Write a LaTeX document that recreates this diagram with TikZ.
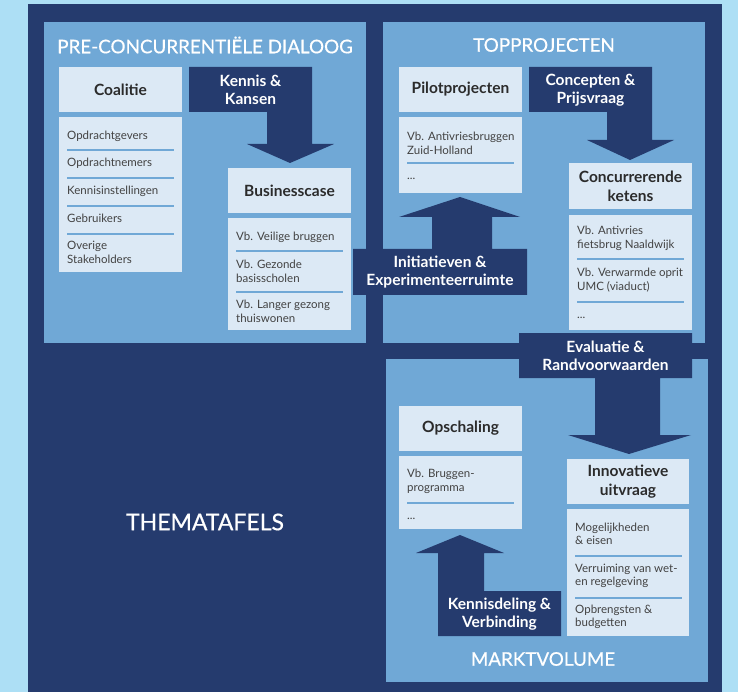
\documentclass[tikz,border=0pt]{standalone}
\usepackage{fontspec}
\setmainfont{Lato}
\newfontfamily\medfont[FakeBold=0.6]{Lato}
\definecolor{bgl}{HTML}{ADDFF5}
\definecolor{navy}{HTML}{253B6E}
\definecolor{midb}{HTML}{70A8D6}
\definecolor{boxl}{HTML}{DCE9F5}
\definecolor{hdtxt}{HTML}{2B2B2B}
\definecolor{ltxt}{HTML}{424242}
\begin{document}
\begin{tikzpicture}[x=1pt,y=-1pt,
  paneltitle/.style={text=white,font=\medfont\fontsize{18.8}{22}\selectfont,inner sep=0},
  hdrbox/.style={fill=boxl,draw=none,inner sep=0,align=center,text=hdtxt,font=\bfseries\fontsize{15.5}{19}\selectfont},
  listbox/.style={fill=boxl,draw=none,inner sep=0},
  item/.style={anchor=west,align=left,text=ltxt,inner sep=0,font=\fontsize{11.5}{13.5}\selectfont},
  dots/.style={anchor=base west,text=ltxt,inner sep=0,font=\fontsize{11.5}{13.5}\selectfont},
  sep/.style={midb,line width=2pt},
  arrlabel/.style={text=white,align=center,inner sep=0,font=\bfseries\fontsize{15.5}{18}\selectfont},
  arrshape/.style={fill=navy,draw=none}
]
\useasboundingbox (0,0) rectangle (738,692);
\fill[bgl] (0,0) rectangle (738,692);
\fill[navy] (28,4) rectangle (722,692);

% panels
\fill[midb] (44,22) rectangle (366,343);
\fill[midb] (383,22) rectangle (705,343);
\fill[midb] (386,359) rectangle (708,682);
\node[paneltitle] (t1) at (205,45) {PRE-CONCURRENTIËLE DIALOOG};
\node[paneltitle] (t2) at (544,45) {TOPPROJECTEN};
\node[paneltitle] (t3) at (543,659) {MARKTVOLUME};
\node[text=white,inner sep=0,font=\medfont\fontsize{23}{27}\selectfont] (thema) at (205,522) {THEMATAFELS};

% ---------- Coalitie ----------
\node[hdrbox,minimum width=123pt,minimum height=45pt] (coal) at (120.5,89.5) {Coalitie};
\node[listbox,minimum width=123pt,minimum height=155pt] (coallist) at (120.5,194.5) {};
\node[item] (c1) at (67,136) {Opdrachtgevers};
\draw[sep] (67,150) -- (174,150);
\node[item] (c2) at (67,163) {Opdrachtnemers};
\draw[sep] (67,178) -- (174,178);
\node[item] (c3) at (67,191) {Kennisinstellingen};
\draw[sep] (67,206) -- (174,206);
\node[item] (c4) at (67,218) {Gebruikers};
\draw[sep] (67,234) -- (174,234);
\node[item] (c5) at (67,252.5) {Overige\\Stakeholders};

% ---------- Kennis & Kansen ----------
\fill[arrshape] (189,67) -- (312,67) -- (312,144) -- (334,144) -- (290,163) -- (247,144) -- (267,144) -- (267,112) -- (189,112) -- cycle;
\node[arrlabel] (kk) at (250.5,90) {Kennis \&\\Kansen};

% ---------- Businesscase ----------
\node[hdrbox,minimum width=123pt,minimum height=45pt] (busi) at (289.5,190.5) {Businesscase};
\node[listbox,minimum width=123pt,minimum height=112pt] (busilist) at (289.5,274) {};
\node[item] (b1) at (236,237) {Vb. Veilige bruggen};
\draw[sep] (236,251) -- (343,251);
\node[item] (b2) at (236,271.5) {Vb. Gezonde\\basisscholen};
\draw[sep] (236,292) -- (343,292);
\node[item] (b3) at (236,311.5) {Vb. Langer gezong\\thuiswonen};

% ---------- Pilotprojecten ----------
\node[hdrbox,minimum width=123pt,minimum height=45pt] (pilot) at (460.5,89.5) {Pilotprojecten};
\node[listbox,minimum width=123pt,minimum height=76pt] (pilotlist) at (460.5,155) {};
\node[item] (p1) at (407,143.5) {Vb. Antivriesbruggen\\Zuid-Holland};
\draw[sep] (407,163) -- (514,163);
\node[dots] (p2) at (407,180) {...};

% ---------- Concepten & Prijsvraag ----------
\fill[arrshape] (529,67) -- (652,67) -- (652,140) -- (674,140) -- (630,160) -- (587,140) -- (607,140) -- (607,112) -- (529,112) -- cycle;
\node[arrlabel] (cp) at (590.5,90) {Concepten \&\\Prijsvraag};

% ---------- Concurrerende ketens ----------
\node[hdrbox,minimum width=123pt,minimum height=46pt] (conc) at (630.5,186) {Concurrerende\\ketens};
\node[listbox,minimum width=123pt,minimum height=115pt] (conclist) at (630.5,272.5) {};
\node[item] (k1) at (577,238.5) {Vb. Antivries\\fietsbrug Naaldwijk};
\draw[sep] (577,259) -- (684,259);
\node[item] (k2) at (577,280) {Vb. Verwarmde oprit\\UMC (viaduct)};
\draw[sep] (577,302) -- (684,302);
\node[dots] (k3) at (577,318) {...};

% ---------- Initiatieven & Experimenteerruimte ----------
\fill[arrshape] (353,249) -- (432,249) -- (432,217) -- (399,217) -- (460,197) -- (520,217) -- (492,217) -- (492,249) -- (527,249) -- (527,295) -- (353,295) -- cycle;
\node[arrlabel] (ie) at (440,272.5) {Initiatieven \&\\Experimenteerruimte};

% ---------- Evaluatie & Randvoorwaarden ----------
\fill[arrshape] (519,333) -- (692,333) -- (692,378) -- (660,378) -- (660,435) -- (691,435) -- (629,454) -- (568,435) -- (595,435) -- (595,378) -- (519,378) -- cycle;
\node[arrlabel] (er) at (605.5,356) {Evaluatie \&\\Randvoorwaarden};

% ---------- Opschaling ----------
\node[hdrbox,minimum width=123pt,minimum height=45pt] (opsch) at (460.5,428.5) {Opschaling};
\node[listbox,minimum width=123pt,minimum height=73pt] (opschlist) at (460.5,492.5) {};
\node[item] (o1) at (407,481.5) {Vb. Bruggen-\\programma};
\draw[sep] (407,503) -- (514,503);
\node[dots] (o2) at (407,519) {...};

% ---------- Kennisdeling & Verbinding ----------
\fill[arrshape] (438,636) -- (438,553) -- (416,553) -- (460,535) -- (504,553) -- (484,553) -- (484,591) -- (561,591) -- (561,636) -- cycle;
\node[arrlabel] (kv) at (499.5,614) {Kennisdeling \&\\Verbinding};

% ---------- Innovatieve uitvraag ----------
\node[hdrbox,minimum width=122pt,minimum height=45pt] (innov) at (628,481.5) {Innovatieve\\uitvraag};
\node[listbox,minimum width=122pt,minimum height=127pt] (innovlist) at (628,572.5) {};
\node[item] (i1) at (575,534) {Mogelijkheden\\\& eisen};
\draw[sep] (575,556) -- (682,556);
\node[item] (i2) at (575,576) {Verruiming van wet-\\en regelgeving};
\draw[sep] (575,598) -- (682,598);
\node[item] (i3) at (575,617) {Opbrengsten \&\\budgetten};
\end{tikzpicture}
\end{document}
